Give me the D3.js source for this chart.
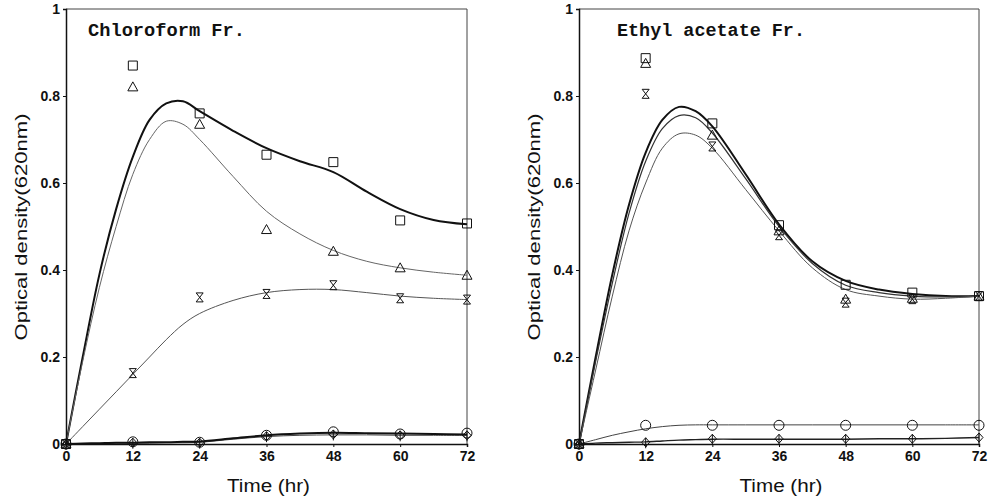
<!DOCTYPE html>
<html>
<head>
<meta charset="utf-8">
<script src="https://cdn.jsdelivr.net/npm/d3@7"></script>
<style>
  body { margin: 0; background: #fff; }
  .tick text { font-family: "Liberation Sans", Arial, sans-serif; font-weight: bold; font-size: 14px; fill: #111; }
  .axis path, .axis line { stroke: #111; }
</style>
</head>
<body>
<div id="chart"></div>
<script>
// Sampling times of the measured points (hr)
var hours = [0, 12, 24, 36, 48, 60, 72];
var fitHours = [0, 3, 6, 9, 12, 15, 18, 21, 24, 30, 36, 42, 48, 54, 60, 66, 72];

var xTicks = [0, 12, 24, 36, 48, 60, 72];
var yTicks = [0, 0.2, 0.4, 0.6, 0.8, 1];

// Chloroform Fr. measured points
var chloroSquare = [0, 0.87, 0.76, 0.665, 0.648, 0.514, 0.507];
var chloroTriangle = [0, 0.821, 0.735, 0.493, 0.443, 0.405, 0.388];
var chloroHourglass = [0, 0.163, 0.337, 0.345, 0.365, 0.335, 0.332];
var chloroCircle = [0, 0.005, 0.004, 0.02, 0.028, 0.023, 0.025];
var chloroDiamond = [0, 0.003, 0.003, 0.018, 0.022, 0.02, 0.02];

// Chloroform Fr. fitted curves
var chloroSquareFit = [0, 0.2, 0.39, 0.54, 0.66, 0.745, 0.783, 0.788, 0.765, 0.72, 0.68, 0.65, 0.625, 0.58, 0.54, 0.515, 0.505];
var chloroTriangleFit = [0, 0.19, 0.36, 0.5, 0.62, 0.7, 0.742, 0.735, 0.70, 0.615, 0.535, 0.483, 0.445, 0.42, 0.405, 0.395, 0.388];
var chloroHourglassFit = [0, 0.04, 0.08, 0.12, 0.16, 0.2, 0.24, 0.275, 0.30, 0.33, 0.348, 0.355, 0.355, 0.348, 0.34, 0.335, 0.332];
var chloroCircleFit = [0, 0.001, 0.002, 0.003, 0.003, 0.004, 0.004, 0.005, 0.006, 0.013, 0.02, 0.024, 0.026, 0.025, 0.024, 0.023, 0.022];
var chloroDiamondFit = [0, 0.001, 0.001, 0.002, 0.002, 0.002, 0.003, 0.003, 0.004, 0.011, 0.017, 0.02, 0.021, 0.021, 0.02, 0.02, 0.02];

// Ethyl acetate Fr. measured points
var ethylSquare = [0, 0.887, 0.737, 0.503, 0.366, 0.348, 0.34];
var ethylTriangle = [0, 0.875, 0.71, 0.49, 0.333, 0.335, 0.34];
var ethylHourglass = [0, 0.805, 0.684, 0.48, 0.325, 0.333, 0.34];
var ethylCircle = [0, 0.043, 0.043, 0.043, 0.043, 0.043, 0.043];
var ethylDiamond = [0, 0.004, 0.012, 0.012, 0.012, 0.012, 0.015];

// Ethyl acetate Fr. fitted curves
var ethylSquareFit = [0, 0.2, 0.39, 0.55, 0.67, 0.745, 0.775, 0.765, 0.73, 0.62, 0.505, 0.42, 0.375, 0.355, 0.345, 0.34, 0.34];
var ethylTriangleFit = [0, 0.19, 0.37, 0.53, 0.65, 0.725, 0.755, 0.75, 0.715, 0.61, 0.50, 0.415, 0.365, 0.348, 0.34, 0.338, 0.34];
var ethylHourglassFit = [0, 0.17, 0.34, 0.49, 0.60, 0.68, 0.713, 0.71, 0.68, 0.585, 0.49, 0.405, 0.355, 0.34, 0.333, 0.335, 0.34];
var ethylCircleFit = [0, 0.01, 0.02, 0.028, 0.035, 0.04, 0.043, 0.044, 0.044, 0.044, 0.044, 0.044, 0.044, 0.044, 0.044, 0.044, 0.044];
var ethylDiamondFit = [0, 0.002, 0.003, 0.004, 0.005, 0.007, 0.009, 0.01, 0.011, 0.011, 0.011, 0.011, 0.011, 0.012, 0.012, 0.013, 0.015];

var svgWidth = 990;
var svgHeight = 501;

var svg = d3.select("#chart")
    .append("svg")
    .attr("width", svgWidth)
    .attr("height", svgHeight);

// Marker shapes, centred on 0,0
var markerPaths = {
    square: "M-4.5,-4.5H4.5V4.5H-4.5Z",
    triangle: "M0,-5L5,4H-5Z",
    hourglass: "M-3.5,-4.5H3.5L-3.5,4.5H3.5Z",
    circle: "M5,0A5,5 0 1,1 -5,0A5,5 0 1,1 5,0Z",
    diamond: "M0,-4.5L4,0L0,4.5L-4,0ZM0,-4.5V6"
};

var panels = [
    {
        title: "Chloroform Fr.", titleX: 88, titleLen: 157,
        left: 66, right: 467,
        series: [
            { pts: chloroSquare, fit: chloroSquareFit, marker: "square", width: 2, color: "#111" },
            { pts: chloroTriangle, fit: chloroTriangleFit, marker: "triangle", width: 1, color: "#666" },
            { pts: chloroHourglass, fit: chloroHourglassFit, marker: "hourglass", width: 1, color: "#555" },
            { pts: chloroDiamond, fit: chloroDiamondFit, marker: "diamond", width: 1, color: "#444" },
            { pts: chloroCircle, fit: chloroCircleFit, marker: "circle", width: 2, color: "#111" }
        ]
    },
    {
        title: "Ethyl acetate Fr.", titleX: 617, titleLen: 188,
        left: 579, right: 979,
        series: [
            { pts: ethylSquare, fit: ethylSquareFit, marker: "square", width: 2, color: "#111" },
            { pts: ethylTriangle, fit: ethylTriangleFit, marker: "triangle", width: 1.2, color: "#333" },
            { pts: ethylHourglass, fit: ethylHourglassFit, marker: "hourglass", width: 1, color: "#555" },
            { pts: ethylCircle, fit: ethylCircleFit, marker: "circle", width: 1, color: "#444" },
            { pts: ethylDiamond, fit: ethylDiamondFit, marker: "diamond", width: 1.4, color: "#222" }
        ]
    }
];

var plotTop = 9;
var plotBottom = 444;

var yScale = d3.scaleLinear()
    .domain([0, 1])
    .range([plotBottom, plotTop]);

panels.forEach(function (p) {
    var xScale = d3.scaleLinear()
        .domain([0, 72])
        .range([p.left, p.right]);

    var g = svg.append("g");

    // frame on top and right
    g.append("path")
        .attr("d", `M${p.left},${plotTop}H${p.right}V${plotBottom}`)
        .attr("fill", "none")
        .attr("stroke", "#444")
        .attr("stroke-width", 1);

    // fitted curves
    var line = d3.line()
        .x(function (d, i) { return xScale(fitHours[i]); })
        .y(function (d) { return yScale(d); })
        .curve(d3.curveCatmullRom.alpha(0.5));

    p.series.forEach(function (s) {
        g.append("path")
            .attr("d", line(s.fit))
            .attr("fill", "none")
            .attr("stroke", s.color)
            .attr("stroke-width", s.width);
    });

    // measured points
    p.series.forEach(function (s) {
        g.selectAll(null)
            .data(s.pts)
            .enter()
            .append("path")
            .attr("transform", function (d, i) { return `translate(${xScale(hours[i])},${yScale(d)})`; })
            .attr("d", markerPaths[s.marker])
            .attr("fill", "none")
            .attr("stroke", "#111")
            .attr("stroke-width", 1);
    });

    // axes
    g.append("g")
        .attr("class", "axis")
        .attr("transform", `translate(${p.left},0)`)
        .call(d3.axisLeft(yScale)
            .tickValues(yTicks)
            .tickSize(3)
            .tickPadding(3)
            .tickFormat(function (d) { return (d === 0 || d === 1) ? d : d3.format(".1f")(d); }))
        .call(function (a) { a.select(".domain").attr("stroke-width", 1.5); });

    g.append("g")
        .attr("class", "axis")
        .attr("transform", `translate(0,${plotBottom})`)
        .call(d3.axisBottom(xScale)
            .tickValues(xTicks)
            .tickSize(3)
            .tickPadding(4))
        .call(function (a) { a.select(".domain").attr("stroke-width", 1.5); });

    // panel title
    g.append("text")
        .attr("x", p.titleX)
        .attr("y", 36)
        .attr("textLength", p.titleLen)
        .attr("lengthAdjust", "spacingAndGlyphs")
        .style("font-family", "'Liberation Mono', 'DejaVu Sans Mono', monospace")
        .style("font-weight", "bold")
        .style("font-size", "19px")
        .style("fill", "#111")
        .text(p.title);

    // axis labels
    g.append("text")
        .attr("x", (p.left + p.right) / 2 + 2)
        .attr("y", 492)
        .attr("text-anchor", "middle")
        .attr("textLength", 83)
        .attr("lengthAdjust", "spacingAndGlyphs")
        .style("font-family", "'Liberation Sans', Arial, sans-serif")
        .style("font-size", "18px")
        .style("fill", "#111")
        .text("Time (hr)");

    g.append("text")
        .attr("transform", `translate(${p.left - 39},227)rotate(-90)`)
        .attr("text-anchor", "middle")
        .attr("textLength", 227)
        .attr("lengthAdjust", "spacingAndGlyphs")
        .style("font-family", "'Liberation Sans', Arial, sans-serif")
        .style("font-size", "17px")
        .style("fill", "#111")
        .text("Optical density(620nm)");
});
</script>
</body>
</html>
